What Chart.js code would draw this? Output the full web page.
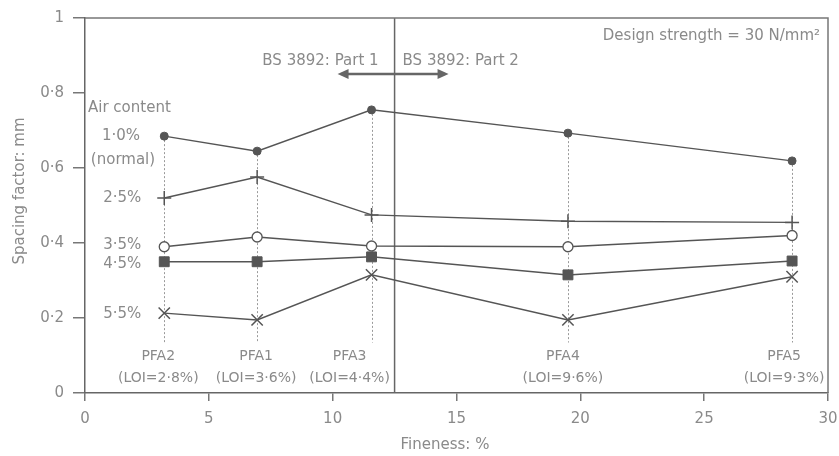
<!DOCTYPE html>
<html><head><meta charset="utf-8">
<script src="https://cdn.jsdelivr.net/npm/chart.js@4/dist/chart.umd.min.js"></script>
<style>html,body{margin:0;padding:0;background:#fff}#wrap{width:839px;height:456px}</style>
</head><body><div id="wrap"><canvas id="c" width="839" height="456"></canvas></div>
<script>
// ---- data ----
const fineness = [3.2, 6.95, 11.57, 19.5, 28.55];
const pfaNames = ['PFA2', 'PFA1', 'PFA3', 'PFA4', 'PFA5'];
const loiLabels = ['(LOI=2·8%)', '(LOI=3·6%)', '(LOI=4·4%)', '(LOI=9·6%)', '(LOI=9·3%)'];
const seriesNames = ['1·0%', '2·5%', '3·5%', '4·5%', '5·5%'];
const air10 = [0.685, 0.645, 0.755, 0.693, 0.619];
const air25 = [0.52, 0.576, 0.475, 0.458, 0.455];
const air35 = [0.39, 0.416, 0.392, 0.39, 0.42];
const air45 = [0.35, 0.35, 0.363, 0.315, 0.352];
const air55 = [0.213, 0.195, 0.315, 0.195, 0.31];
const xTicks = [0, 5, 10, 15, 20, 25, 30];
const yTicks = [0, 0.2, 0.4, 0.6, 0.8, 1];
const partBoundary = 12.5;
const xTitle = 'Fineness: %';
const yTitle = 'Spacing factor: mm';
const noteText = 'Design strength = 30 N/mm²';
const part1Text = 'BS 3892: Part 1';
const part2Text = 'BS 3892: Part 2';
const airTitle = 'Air content';

const FONT = 'DejaVu Sans';
const TXT = '#8a8a8a';
const LINE = '#555';

function pts(arr) { return arr.map((v, i) => ({x: fineness[i], y: v})); }
function fmt(v) { const r = Math.round(v * 10) / 10; return String(r).replace('.', '·'); }

const styles = [
  {pointStyle: 'circle', radius: 4, bg: LINE, bw: 1},
  {pointStyle: 'cross', radius: 7, bg: LINE, bw: 1.5},
  {pointStyle: 'circle', radius: 5, bg: '#fff', bw: 1.3},
  {pointStyle: 'rect', radius: 7, bg: '#555', bw: 1},
  {pointStyle: 'crossRot', radius: 8, bg: LINE, bw: 1.5}
];
const seriesData = [air10, air25, air35, air45, air55];
const datasets = seriesData.map((d, i) => ({
  label: seriesNames[i],
  data: pts(d),
  borderColor: LINE,
  borderWidth: 1.5,
  backgroundColor: styles[i].bg,
  pointStyle: styles[i].pointStyle,
  pointRadius: styles[i].radius,
  pointBorderColor: LINE,
  pointBackgroundColor: styles[i].bg,
  pointBorderWidth: styles[i].bw,
  showLine: true,
  tension: 0,
  fill: false
}));

const deco = {
  id: 'deco',
  beforeDatasetsDraw(chart) {
    const {ctx, scales: {x, y}, chartArea: a} = chart;
    ctx.save();
    ctx.strokeStyle = '#9a9a9a';
    ctx.lineWidth = 1;
    ctx.setLineDash([2, 2]);
    fineness.forEach((f, i) => {
      const top = Math.max(...seriesData.map(s => s[i]));
      const px = Math.round(x.getPixelForValue(f)) + 0.5;
      ctx.beginPath();
      ctx.moveTo(px, y.getPixelForValue(top));
      ctx.lineTo(px, y.getPixelForValue(0.135));
      ctx.stroke();
    });
    ctx.setLineDash([]);
    ctx.strokeStyle = '#666';
    ctx.lineWidth = 1.5;
    const bx = x.getPixelForValue(partBoundary);
    ctx.beginPath(); ctx.moveTo(bx, a.top); ctx.lineTo(bx, a.bottom); ctx.stroke();
    ctx.restore();
  },
  afterDraw(chart) {
    const {ctx, scales: {x, y}, chartArea: a} = chart;
    ctx.save();
    ctx.strokeStyle = '#777';
    ctx.lineWidth = 1.5;
    ctx.beginPath();
    ctx.moveTo(a.left, a.top); ctx.lineTo(a.right, a.top); ctx.lineTo(a.right, a.bottom);
    ctx.stroke();

    ctx.fillStyle = TXT;
    ctx.font = '15px "' + FONT + '"';
    ctx.textBaseline = 'middle';

    ctx.textAlign = 'center';
    ctx.fillText(xTitle, 445, 445);
    ctx.save();
    ctx.translate(20, 191);
    ctx.rotate(-Math.PI / 2);
    ctx.fillText(yTitle, 0, 0);
    ctx.restore();

    ctx.textAlign = 'right';
    ctx.fillText(noteText, a.right - 8, 36);

    const bx = x.getPixelForValue(partBoundary);
    ctx.textAlign = 'right';
    ctx.fillText(part1Text, bx - 16, 61);
    ctx.textAlign = 'left';
    ctx.fillText(part2Text, bx + 8, 61);
    const ay = 74, ax1 = bx - 57, ax2 = bx + 54;
    ctx.strokeStyle = '#666';
    ctx.fillStyle = '#666';
    ctx.lineWidth = 2.5;
    ctx.beginPath(); ctx.moveTo(ax1 + 4, ay); ctx.lineTo(ax2 - 4, ay); ctx.stroke();
    ctx.beginPath(); ctx.moveTo(ax1, ay); ctx.lineTo(ax1 + 11, ay - 5); ctx.lineTo(ax1 + 11, ay + 5); ctx.closePath(); ctx.fill();
    ctx.beginPath(); ctx.moveTo(ax2, ay); ctx.lineTo(ax2 - 11, ay - 5); ctx.lineTo(ax2 - 11, ay + 5); ctx.closePath(); ctx.fill();

    ctx.fillStyle = TXT;
    ctx.textAlign = 'left';
    ctx.fillText(airTitle, a.left + 3, 108);
    ctx.textAlign = 'center';
    ctx.fillText(seriesNames[0], 121, 136);
    ctx.fillText('(normal)', 123, 160);
    ctx.textAlign = 'right';
    const firstPx = x.getPixelForValue(fineness[0]);
    const labelRight = firstPx - 23;
    ctx.fillText(seriesNames[1], labelRight, y.getPixelForValue(air25[0]));
    ctx.fillText(seriesNames[2], labelRight, y.getPixelForValue(air35[0]) - 2);
    ctx.fillText(seriesNames[3], labelRight, y.getPixelForValue(air45[0]) + 2);
    ctx.fillText(seriesNames[4], labelRight, y.getPixelForValue(air55[0]) + 1);

    const shifts = [-6, -1, -22, -5, -8];
    ctx.font = '14px "' + FONT + '"';
    ctx.textAlign = 'center';
    fineness.forEach((f, i) => {
      const px = x.getPixelForValue(f) + shifts[i];
      ctx.fillText(pfaNames[i], px, 356);
      ctx.fillText(loiLabels[i], px, 378);
    });
    ctx.restore();
  }
};

new Chart(document.getElementById('c'), {
  type: 'scatter',
  data: {datasets},
  options: {
    responsive: false,
    animation: false,
    layout: {padding: {left: 0, top: 18, right: 11, bottom: 0}},
    plugins: {legend: {display: false}, tooltip: {enabled: false}},
    scales: {
      x: {
        type: 'linear', min: 0, max: 30,
        afterBuildTicks: s => { s.ticks = xTicks.map(v => ({value: v})); },
        afterFit: s => { s.height = 63; s.paddingLeft = 0; s.paddingRight = 0; },
        ticks: {color: TXT, font: {family: FONT, size: 15}, padding: 9, callback: v => fmt(v)},
        grid: {display: true, drawOnChartArea: false, drawTicks: true, tickLength: 8, color: '#777', lineWidth: 1.5},
        border: {display: true, color: '#666', width: 1.5}
      },
      y: {
        type: 'linear', min: 0, max: 1,
        afterBuildTicks: s => { s.ticks = yTicks.map(v => ({value: v})); },
        afterFit: s => { s.width = 85; s.paddingTop = 0; s.paddingBottom = 0; },
        ticks: {color: TXT, font: {family: FONT, size: 15}, padding: 9, callback: v => fmt(v)},
        grid: {display: true, drawOnChartArea: false, drawTicks: true, tickLength: 12, color: '#777', lineWidth: 1.5},
        border: {display: true, color: '#666', width: 1.5}
      }
    }
  },
  plugins: [deco]
});
</script>
</body></html>
